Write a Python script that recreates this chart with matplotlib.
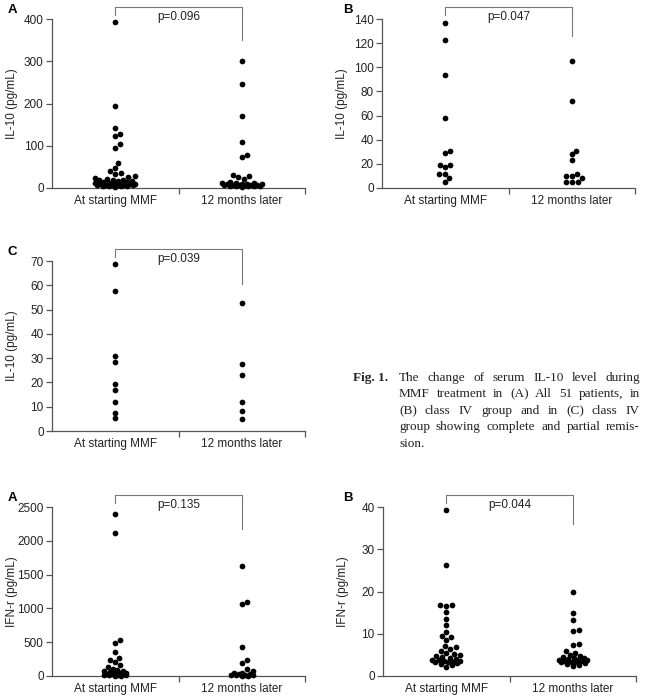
import numpy as np
import matplotlib
matplotlib.use("Agg")
import matplotlib.pyplot as plt

plt.rcParams['font.family'] = ['Liberation Sans', 'DejaVu Sans']

# ==== Data ====
groups = ["At starting MMF", "12 months later"]

il10_all_start = [392, 193, 143, 128, 122, 103, 95, 58, 47, 40, 35, 32, 28, 25, 24, 22,
                  20, 19, 18, 17, 16, 15, 14, 13, 12, 11, 10, 10, 9, 9, 8, 8, 7, 7,
                  6, 6, 5, 5, 4, 4, 3]
il10_all_later = [300, 247, 170, 108, 78, 73, 30, 28, 25, 22, 15, 13, 12, 11, 10, 10,
                  9, 9, 8, 8, 7, 7, 6, 6, 5, 5, 5, 4, 4, 3]

il10_iv_start = [137, 123, 94, 58, 31, 29, 19, 19, 17, 12, 12, 8, 5]
il10_iv_later = [105, 72, 31, 28, 23, 12, 10, 10, 8, 5, 5, 5]

il10_rem_start = [68.6, 57.6, 31.0, 28.5, 19.2, 16.9, 12.1, 7.5, 5.2]
il10_rem_later = [52.8, 27.5, 23.1, 12.1, 8.4, 4.9]

ifn_all_start = [2400, 2120, 530, 490, 360, 260, 230, 200, 160, 130, 110, 90, 80, 70,
                 60, 50, 45, 40, 35, 30, 25, 20, 15, 10, 8, 5, 3]
ifn_all_later = [1620, 1100, 1060, 430, 230, 190, 100, 70, 50, 40, 30, 25, 20, 15,
                 10, 8, 5, 3]

ifn_iv_start = [39.2, 26.2, 16.8, 16.7, 16.5, 15.2, 13.4, 12.0, 10.5, 9.4, 9.2, 8.5,
                7.0, 6.8, 6.5, 6.0, 5.5, 5.2, 5.0, 4.8, 4.5, 4.3, 4.0, 3.8, 3.7, 3.6,
                3.5, 3.4, 3.3, 3.2, 3.0, 2.8, 2.5, 2.2]
ifn_iv_later = [20.0, 14.8, 13.3, 10.8, 10.7, 7.5, 7.3, 6.0, 5.5, 5.0, 4.8, 4.5, 4.3,
                4.2, 4.0, 3.9, 3.8, 3.7, 3.6, 3.5, 3.4, 3.3, 3.2, 3.0, 2.8, 2.6, 2.4]

p_values = ["p=0.096", "p=0.047", "p=0.039", "p=0.135", "p=0.044"]
panel_letters = ["A", "B", "C", "A", "B"]
y_labels = ["IL-10 (pg/mL)"] * 3 + ["IFN-r (pg/mL)"] * 2
y_ticks = [np.arange(0, 401, 100), np.arange(0, 141, 20), np.arange(0, 71, 10),
           np.arange(0, 2501, 500), np.arange(0, 41, 10)]

caption_lines = [
    "The change of serum IL-10 level during",
    "MMF treatment in (A) All 51 patients, in",
    "(B) class IV group and in (C) class IV",
    "group showing complete and partial remis-",
    "sion.",
]

# ==== Layout (pixels) ====
W, H = 647, 698
boxes = [(52, 305, 19, 188), (382, 635, 19, 188), (52, 305, 261, 431),
         (52, 305, 507, 676), (383, 636, 507, 676)]
right_leg = [21, 17, 23, 22, 17]   # px below axes top
swarm_w = [20, 12, 10, 11, 14]     # max half-width of the swarm, px
GRAY = "#555555"


def swarm(ax, vals, center, half, d=5.6):
    pts = ax.transData.transform([(center, v) for v in vals])
    cx = pts[0, 0]
    ys = pts[:, 1]
    placed = []
    out = []
    cands = [0]
    for k in range(1, int(half) + 1):
        cands += [k, -k]
    for i in np.argsort(ys):
        y = ys[i]
        best, bestd = 0, -1
        for c in cands:
            md = min([np.hypot(c - px, y - py) for px, py in placed] or [99])
            if md >= d * 0.95:
                best = c
                break
            if md > bestd:
                best, bestd = c, md
        placed.append((best, y))
        out.append((cx + best, y))
    inv = ax.transData.inverted()
    return inv.transform(out)


fig = plt.figure(figsize=(W / 100, H / 100), dpi=100)

data = [(il10_all_start, il10_all_later), (il10_iv_start, il10_iv_later),
        (il10_rem_start, il10_rem_later), (ifn_all_start, ifn_all_later),
        (ifn_iv_start, ifn_iv_later)]

for i, (l, r, t, b) in enumerate(boxes):
    ax = fig.add_axes([l / W, 1 - b / H, (r - l) / W, (b - t) / H])
    ax.set_xlim(-0.5, 1.5)
    ax.set_ylim(0, y_ticks[i][-1])
    for s in ["top", "right"]:
        ax.spines[s].set_visible(False)
    for s in ["left", "bottom"]:
        ax.spines[s].set_color(GRAY)
        ax.spines[s].set_linewidth(0.9)
    ax.set_yticks(y_ticks[i])
    ax.set_xticks([0, 1])
    ax.set_xticklabels(groups)
    ax.set_xticks([0.5, 1.5], minor=True)
    ax.tick_params(axis="x", which="major", length=0, pad=5, labelsize=8.5, labelcolor="#222222")
    ax.tick_params(axis="x", which="minor", length=4, width=0.9, color=GRAY)
    ax.tick_params(axis="y", length=4, width=0.9, color=GRAY, pad=2, labelsize=8.5,
                   labelcolor="#222222")
    ax.set_ylabel(y_labels[i], fontsize=8.5, color="#222222")
    ax.yaxis.set_label_coords(-34 / (r - l), 0.5)

    for g, vals in enumerate(data[i]):
        xy = swarm(ax, vals, g, swarm_w[i])
        ax.scatter(xy[:, 0], xy[:, 1], s=17, color="black", linewidths=0,
                   clip_on=False, zorder=3)

    # bracket with p value
    hgt = b - t
    top = 1 + 12.5 / hgt
    tr = ax.get_xaxis_transform()
    ax.plot([0, 0, 1, 1], [1 + 4 / hgt, top, top, 1 - right_leg[i] / hgt],
            color="#777777", lw=0.8, transform=tr, clip_on=False)
    ax.text(0.5, 1 + 2 / hgt, p_values[i], transform=tr, ha="center", va="center",
            fontsize=8.5, color="#222222")

    fig.text(8 / W if l < 200 else 343 / W, 1 - (t - 9) / H, panel_letters[i],
             fontsize=9.5, fontweight="bold", ha="left", va="center")

# ==== Caption (justified) ====
renderer = fig.canvas.get_renderer()
cap_font = dict(family=["Liberation Serif", "DejaVu Serif"], fontsize=9.5, color="#222222")
fig.text(353 / W, 1 - 381 / H, "Fig. 1.", fontweight="bold", va="baseline", **cap_font)
x0, x1 = 399, 640
for k, line in enumerate(caption_lines):
    yb = 381 + k * 16.4
    words = line.split()
    texts = [fig.text(0, 1 - yb / H, w, va="baseline", **cap_font) for w in words]
    widths = [tx.get_window_extent(renderer).width for tx in texts]
    if k == len(caption_lines) - 1 or len(words) == 1:
        gap = 4
    else:
        gap = (x1 - x0 - sum(widths)) / (len(words) - 1)
    x = x0
    for tx, w in zip(texts, widths):
        tx.set_x(x / W)
        x += w + gap

fig.savefig("out.png", dpi=100)
